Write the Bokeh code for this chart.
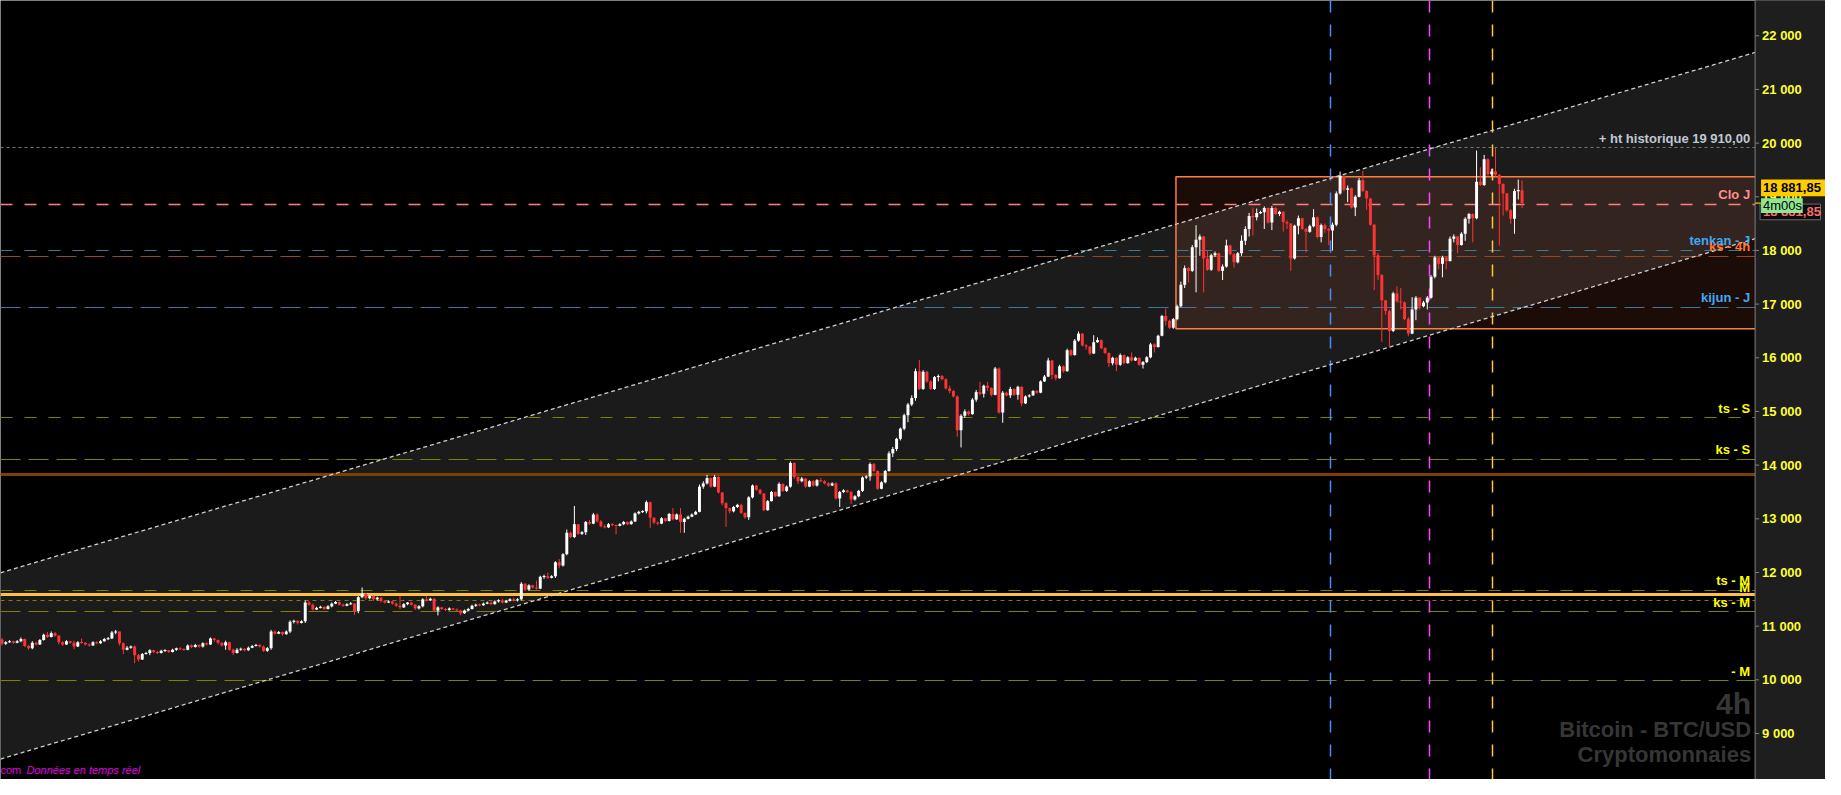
import numpy as np
from bokeh.plotting import figure
from bokeh.models import Range1d, Label
from bokeh.core.properties import value
from bokeh.embed import file_html
from bokeh.resources import INLINE

# ---------------- data (4h candles, BTC/USD) ----------------
first_open = 10750
close = [
10670,10700,10720,10690,10720,10760,10630,10590,10690,10660,
10740,10840,10800,10870,10820,10700,10660,10720,10690,10620,
10700,10690,10660,10640,10700,10680,10720,10760,10770,10880,
10900,10680,10560,10600,10620,10460,10380,10480,10500,10550,
10520,10500,10540,10550,10520,10560,10590,10570,10560,10640,
10610,10650,10620,10680,10660,10770,10740,10690,10640,10700,
10560,10500,10560,10580,10550,10600,10630,10650,10620,10540,
10590,10900,10860,10890,10850,10900,11080,11100,11060,11090,
11440,11400,11310,11340,11360,11320,11370,11420,11450,11400,
11380,11410,11420,11280,11540,11600,11520,11560,11500,11530,
11470,11440,11460,11420,11380,11350,11410,11440,11400,11330,
11370,11500,11480,11510,11290,11350,11320,11300,11330,11310,
11290,11240,11290,11320,11380,11400,11390,11420,11440,11410,
11460,11480,11440,11470,11500,11480,11500,11790,11680,11760,
11720,11700,11920,11930,11900,11930,12190,12130,12340,12740,
12660,12900,12720,12750,12940,12910,13080,12950,12860,12840,
12900,12880,12870,12900,12940,12900,12950,13100,13130,13140,
13310,13020,12930,12910,13010,12960,13090,12990,13080,12940,
13000,13040,13080,13130,13600,13660,13760,13600,13780,13490,
13290,13200,13140,13220,13260,13110,13030,13400,13620,13540,
13470,13160,13330,13500,13420,13650,13520,13600,14040,13780,
13700,13750,13600,13700,13620,13720,13700,13660,13620,13660,
13380,13500,13530,13500,13360,13420,13520,13770,13790,14020,
13890,13560,13680,13890,14220,14300,14490,14680,14930,15130,
15250,15750,15420,15740,15560,15420,15640,15660,15600,15430,
15380,15280,14650,14920,15000,14950,15220,15360,15330,15480,
15440,15310,15800,14980,15350,15300,15420,15310,15460,15150,
15280,15300,15380,15350,15560,15650,15950,15680,15620,15840,
15750,16140,16050,16320,16450,16230,16210,16080,16290,16330,
16180,16090,15900,16000,15870,16050,15900,16010,15950,16000,
15870,15920,16010,16250,16200,16410,16780,16690,16560,16720,
16960,17360,17670,17620,18060,18200,18260,17850,17640,17910,
17950,17620,17700,18090,17930,17780,17950,18180,18400,18640,
18620,18700,18710,18790,18520,18790,18680,18720,18530,18500,
17850,18460,18600,18400,18350,18450,18620,18250,18470,18400,
18370,18480,19060,19390,19130,19160,18800,19000,19310,19110,
18970,18480,17910,17540,17070,16870,16500,17200,17050,17030,
16720,16450,16900,17120,16960,17030,17120,17510,17870,17750,
17870,17800,18220,18260,18100,18310,18590,18680,18600,19280,
19220,19700,19420,19470,19410,19240,19060,18750,18590,19110,
19120,18881.85]
high = [
10780,10720,10740,10730,10740,10790,10770,10650,10720,10710,
10760,10860,10890,10900,10890,10840,10720,10740,10730,10730,
10720,10770,10700,10680,10720,10720,10740,10780,10800,10910,
10930,10900,10700,10630,10640,10640,10480,10500,10520,10570,
10560,10540,10560,10570,10560,10580,10600,10610,10590,10660,
10660,10670,10660,10700,10700,10790,10780,10750,10700,10730,
10710,10580,10590,10600,10590,10620,10650,10670,10670,10640,
10610,10930,10920,10910,10900,10920,11110,11120,11110,11110,
11480,11470,11420,11360,11380,11370,11390,11440,11470,11460,
11420,11430,11450,11430,11560,11720,11620,11580,11570,11550,
11540,11480,11480,11470,11440,11560,11430,11450,11450,11410,
11390,11520,11560,11530,11520,11370,11360,11340,11350,11340,
11330,11310,11310,11340,11400,11420,11420,11440,11460,11460,
11480,11500,11510,11490,11520,11530,11520,11820,11800,11780,
11770,11850,11940,11960,12000,11950,12210,12250,12360,12800,
12760,13240,12900,12770,12960,12980,13110,13100,12980,12890,
12920,12920,12890,12920,12960,12950,12970,13120,13150,13160,
13340,13320,13030,12950,13030,13020,13110,13200,13100,13200,
13020,13060,13100,13150,13640,13700,13820,13770,13820,13800,
13500,13310,13210,13240,13280,13280,13120,13420,13640,13630,
13560,13480,13350,13520,13510,13680,13660,13620,14070,14050,
13800,13780,13760,13720,13720,13740,13760,13720,13680,13680,
13680,13520,13550,13540,13520,13440,13540,13790,13810,14050,
14040,13900,13700,13910,14260,14340,14510,14700,14960,15160,
15300,15800,15960,15770,15760,15580,15660,15690,15680,15620,
15480,15400,15300,14950,15040,15020,15250,15400,15550,15500,
15550,15450,15830,15820,15380,15370,15460,15430,15480,15470,
15300,15320,15400,15400,15580,15680,16000,15960,15700,15870,
15860,16170,16160,16350,16490,16460,16260,16220,16420,16380,
16340,16200,16100,16020,16010,16080,16060,16030,16100,16020,
16010,15940,16030,16280,16270,16430,16800,16920,16710,16740,
16990,17420,17720,17690,18100,18470,18300,18270,17990,17940,
17980,17960,17740,18200,18110,17950,17970,18280,18450,18700,
18800,18780,18740,18820,18800,18830,18810,18740,18730,18560,
18510,18480,18650,18610,18420,18480,18770,18630,18500,18500,
18420,18520,19100,19470,19400,19210,19170,19030,19350,19480,
19120,18980,18490,17950,17560,17080,16900,17230,17330,17300,
17050,16760,17130,17150,17130,17060,17150,17540,17900,17880,
17900,17880,18260,18300,18270,18340,18620,18700,18690,19860,
19550,19780,19720,19520,19910,19420,19250,19070,18770,19150,
19320,19300]
low = [
10640,10650,10690,10670,10680,10700,10610,10560,10570,10640,
10650,10730,10780,10790,10800,10660,10630,10650,10670,10570,
10610,10670,10640,10620,10630,10660,10670,10710,10740,10760,
10850,10640,10480,10550,10580,10310,10340,10370,10470,10460,
10500,10480,10490,10520,10500,10510,10540,10550,10540,10550,
10590,10600,10600,10600,10640,10650,10710,10660,10620,10560,
10540,10460,10490,10540,10530,10540,10590,10620,10600,10520,
10520,10560,10840,10850,10820,10840,10870,11050,11030,11050,
11060,11380,11290,11300,11330,11300,11310,11350,11410,11380,
11360,11370,11400,11210,11240,11520,11490,11500,11470,11480,
11440,11420,11430,11400,11360,11320,11340,11390,11380,11300,
11310,11350,11460,11470,11270,11200,11300,11280,11290,11300,
11270,11200,11230,11280,11310,11360,11370,11380,11410,11390,
11400,11440,11420,11430,11460,11460,11460,11480,11650,11660,
11700,11680,11690,11880,11880,11890,11900,12080,12110,12320,
12640,12640,12700,12700,12700,12890,12900,12930,12840,12820,
12830,12860,12710,12860,12880,12880,12890,12940,13080,13110,
13100,12830,12900,12880,12900,12940,12950,12970,12980,12740,
12740,12990,13030,13070,13120,13560,13640,13580,13590,13470,
13250,12850,13100,13120,13200,13090,13000,12980,13380,13520,
13450,13140,13150,13320,13400,13410,13500,13500,13580,13740,
13650,13680,13580,13590,13600,13600,13680,13640,13600,13610,
13360,13220,13480,13480,13280,13340,13400,13500,13740,13710,
13870,13540,13550,13660,13880,14150,14260,14460,14650,14800,
15100,15200,15400,15400,15530,15400,15400,15560,15580,15410,
15340,15260,14530,14330,14880,14920,14940,15180,15300,15260,
15380,15280,15300,14960,14790,15280,15250,15290,15220,15100,
15140,15260,15290,15330,15340,15550,15640,15600,15580,15610,
15720,15740,16030,16040,16300,16210,16150,16050,16070,16280,
16160,16070,15830,15860,15750,15850,15880,15890,15930,15940,
15850,15800,15900,15990,16100,16190,16400,16600,16540,16540,
16700,16940,17300,17400,17600,17220,17900,17220,17620,17620,
17880,17600,17450,17680,17910,17680,17760,17900,18100,18260,
18280,18560,18680,18400,18500,18380,18660,18640,18350,18400,
17620,17830,18300,18380,17960,18330,18430,18220,18150,18330,
18100,18000,18450,19040,19100,18900,18780,18640,18990,19090,
18760,18460,17260,17450,16300,16800,16190,16480,17030,16900,
16700,16400,16440,16700,16900,16940,16900,17100,17480,17650,
17500,17650,17800,18150,17950,18090,18180,18500,18150,18580,
19200,19200,19380,19380,19380,18090,18650,18720,18500,18310,
18950,18790]

last_price = 18881.85
ath_level = 19910
box_start = 309.7
box_top, box_bottom = 19371, 16541
channel_x = [-0.4, 462.5]
channel_upper = [11994, 21690]
channel_lower = [8524, 18220]
time_marks = [350.5, 376.5, 393.2]
level_names = ["Clo J", "tenkan - J", "ks - 4h", "kijun - J", "ts - S", "ks - S", "ts - M", "ks - M", "- M"]
level_values = [18860, 18000, 17890, 16943, 14879, 14112, 11666, 11264, 9986]
support_13820 = 13820
support_11593 = 11593
minor_11483 = 11483
tick_values = list(range(9000, 22001, 1000))
tick_labels = [f"{v // 1000} 000" for v in tick_values]
price_text = "18 881,85"
timer_text = "4m00s"

# ---------------- geometry helpers (reference pixel -> data) ----------------
REF_W, REF_H = 1841, 795
X0, XF = -0.39, 481.05          # full width of the canvas in bar-index units
YT, YB = 22657, 8143             # full height in price units

def xd(px):
    return X0 + (XF - X0) * px / REF_W

def dy(px):
    return (YT - YB) * px / REF_H

X1 = xd(1770)                    # right edge of the price area (axis line)

p = figure(width=1825, height=779, output_backend="svg", toolbar_location=None,
           x_range=Range1d(X0, XF), y_range=Range1d(YB, YT),
           x_axis_location=None, y_axis_location=None,
           min_border_left=0, min_border_top=0, min_border_bottom=0, min_border_right=0)
p.background_fill_color = "#000000"
p.border_fill_color = "#000000"
p.outline_line_color = None
p.grid.visible = False

# channel fill
p.patch(x=[channel_x[0], channel_x[1], channel_x[1], channel_x[0]],
        y=[channel_upper[0], channel_upper[1], channel_lower[1], channel_lower[0]],
        fill_color="#1b1b1b", line_color=None)

# range box
p.quad(left=[box_start], right=[X1 + 5], top=[box_top], bottom=[box_bottom],
       fill_color="#ff7040", fill_alpha=0.11, line_color="#ff7f3f", line_width=1.5)

# horizontal levels
styles = {
    "Clo J": ("#ff8080", "12 12", 1.5),
    "tenkan - J": ("#3d7a99", "12 12", 1.2),
    "ks - 4h": ("#8c4a28", "20 8", 1.2),
    "kijun - J": ("#3d7a99", "20 8", 1.2),
    "ts - S": ("#7f7f00", "12 12", 1.2),
    "ks - S": ("#7f7f00", "20 8", 1.2),
    "ts - M": ("#7f7f00", "12 12", 1.2),
    "ks - M": ("#7f7f00", "20 8", 1.2),
    "- M": ("#7f7f00", "20 8", 1.2),
}
p.hspan(y=[ath_level], line_color="#777777", line_dash="3 3", line_width=1)
for name, val in zip(level_names, level_values):
    c, d, w = styles[name]
    p.hspan(y=[val], line_color=c, line_dash=d, line_width=w)
p.hspan(y=[minor_11483], line_color="#7f7f00", line_dash="4 4", line_width=1.2)
p.hspan(y=[support_13820], line_color="#7f3f00", line_width=3)
p.hspan(y=[support_11593], line_color="#ffc040", line_width=3)

# vertical time markers
for xv, col in zip(time_marks, ["#4a8cff", "#ff44ff", "#ffc444"]):
    p.vspan(x=[xv], line_color=col, line_dash="12 12", line_width=1.5)

# channel borders
p.line(channel_x, channel_upper, line_color="#cfcfcf", line_dash="4 3", line_width=1.3)
p.line(channel_x, channel_lower, line_color="#cfcfcf", line_dash="4 3", line_width=1.3)

# candles
n = min(len(close), len(high), len(low))
c_arr = np.array(close[:n], dtype=float)
o_arr = np.concatenate([[first_open], c_arr[:-1]])
h_arr = np.maximum.reduce([np.array(high[:n], dtype=float), o_arr, c_arr])
l_arr = np.minimum.reduce([np.array(low[:n], dtype=float), o_arr, c_arr])
idx = np.arange(n)
colors = np.where(c_arr >= o_arr, "#ffffff", "#ff3333")
top = np.maximum(o_arr, c_arr)
bot = np.minimum(o_arr, c_arr)
mid = (top + bot) / 2
small = (top - bot) < 20
top = np.where(small, mid + 10, top)
bot = np.where(small, mid - 10, bot)
p.segment(x0=idx, x1=idx, y0=h_arr, y1=l_arr, line_color=colors, line_width=1)
p.vbar(x=idx, width=0.78, top=top, bottom=bot, fill_color=colors, line_color=None)

# ---------------- price scale panel (right) ----------------
p.quad(left=[X1], right=[XF + 1], top=[YT + 100], bottom=[YB - 100],
       fill_color="#1e1e1e", line_color=None)
p.segment(x0=[X1], x1=[X1], y0=[YB - 100], y1=[YT + 100], line_color="#808080", line_width=1)
p.segment(x0=[X1] * len(tick_values), x1=[xd(1774)] * len(tick_values),
          y0=tick_values, y1=tick_values, line_color="#808080", line_width=1)
p.text(x=[xd(1777)] * len(tick_values), y=tick_values, text=tick_labels,
       text_font=value("Liberation Sans"), text_font_style="bold", text_font_size="13px",
       text_color="#ffff33", text_baseline="middle", text_align="left")

# price tags
p.segment(x0=[X1], x1=[xd(1776)], y0=[last_price], y1=[last_price], line_color="#ffff00", line_width=1)
p.quad(left=[xd(1775)], right=[xd(1836)], top=[last_price - dy(1)], bottom=[last_price - dy(17)],
       fill_color="#0c0c0c", line_color="#6b6b6b", line_width=1)
p.text(x=[xd(1778)], y=[last_price - dy(9)], text=[price_text],
       text_font=value("Liberation Sans"), text_font_style="bold", text_font_size="13px",
       text_color="#ff6a6a", text_baseline="middle", text_align="left")
p.quad(left=[xd(1776)], right=[xd(1818)], top=[last_price + dy(5)], bottom=[last_price - dy(10)],
       fill_color="#8fe88f", line_color=None)
p.text(x=[xd(1778)], y=[last_price - dy(2.5)], text=[timer_text],
       text_font=value("Liberation Sans"), text_font_size="13px",
       text_color="#000000", text_baseline="middle", text_align="left")
p.quad(left=[xd(1776)], right=[XF + 1], top=[last_price + dy(24)], bottom=[last_price + dy(7)],
       fill_color="#ffcc00", line_color=None)
p.text(x=[xd(1778)], y=[last_price + dy(15.5)], text=[price_text],
       text_font=value("Liberation Sans"), text_font_style="bold", text_font_size="13px",
       text_color="#000000", text_baseline="middle", text_align="left")

# ---------------- level labels ----------------
FONT = "Liberation Sans"
def add_label(text, y, color, yoff=2):
    p.add_layout(Label(x=X1, y=y, x_offset=-5, y_offset=yoff, text=text,
                       text_align="right", text_baseline="bottom",
                       text_color=color, text_font=FONT, text_font_style="bold",
                       text_font_size="13px"))

add_label("+ ht historique 19 910,00", ath_level, "#c0c8d4")
label_colors = {"Clo J": "#ff8f8f", "tenkan - J": "#3fa9f5", "ks - 4h": "#ff7733",
                "kijun - J": "#3fa9f5"}
for name, val in zip(level_names, level_values):
    add_label(name, val, label_colors.get(name, "#ffff00"))
add_label("M", support_11593, "#ffff00", yoff=-1)

# watermark
for txt, yv, size in [("4h", 9565, "30px"), ("Bitcoin - BTC/USD", 9072, "22px"),
                      ("Cryptomonnaies", 8615, "22px")]:
    p.add_layout(Label(x=X1, y=yv, x_offset=-4, text=txt, text_align="right",
                       text_baseline="middle", text_color="#363636", text_font=FONT,
                       text_font_style="bold", text_font_size=size))

# footer
p.add_layout(Label(x=X0, y=8323, x_offset=0, text="com", text_align="left",
                   text_baseline="middle", text_color="#e000e0", text_font=FONT,
                   text_font_size="11px"))
p.add_layout(Label(x=X0, y=8323, x_offset=26, text="Données en temps réel", text_align="left",
                   text_baseline="middle", text_color="#e000e0", text_font=FONT,
                   text_font_style="italic", text_font_size="11px"))

open("out.html", "w").write(file_html(p, INLINE))
